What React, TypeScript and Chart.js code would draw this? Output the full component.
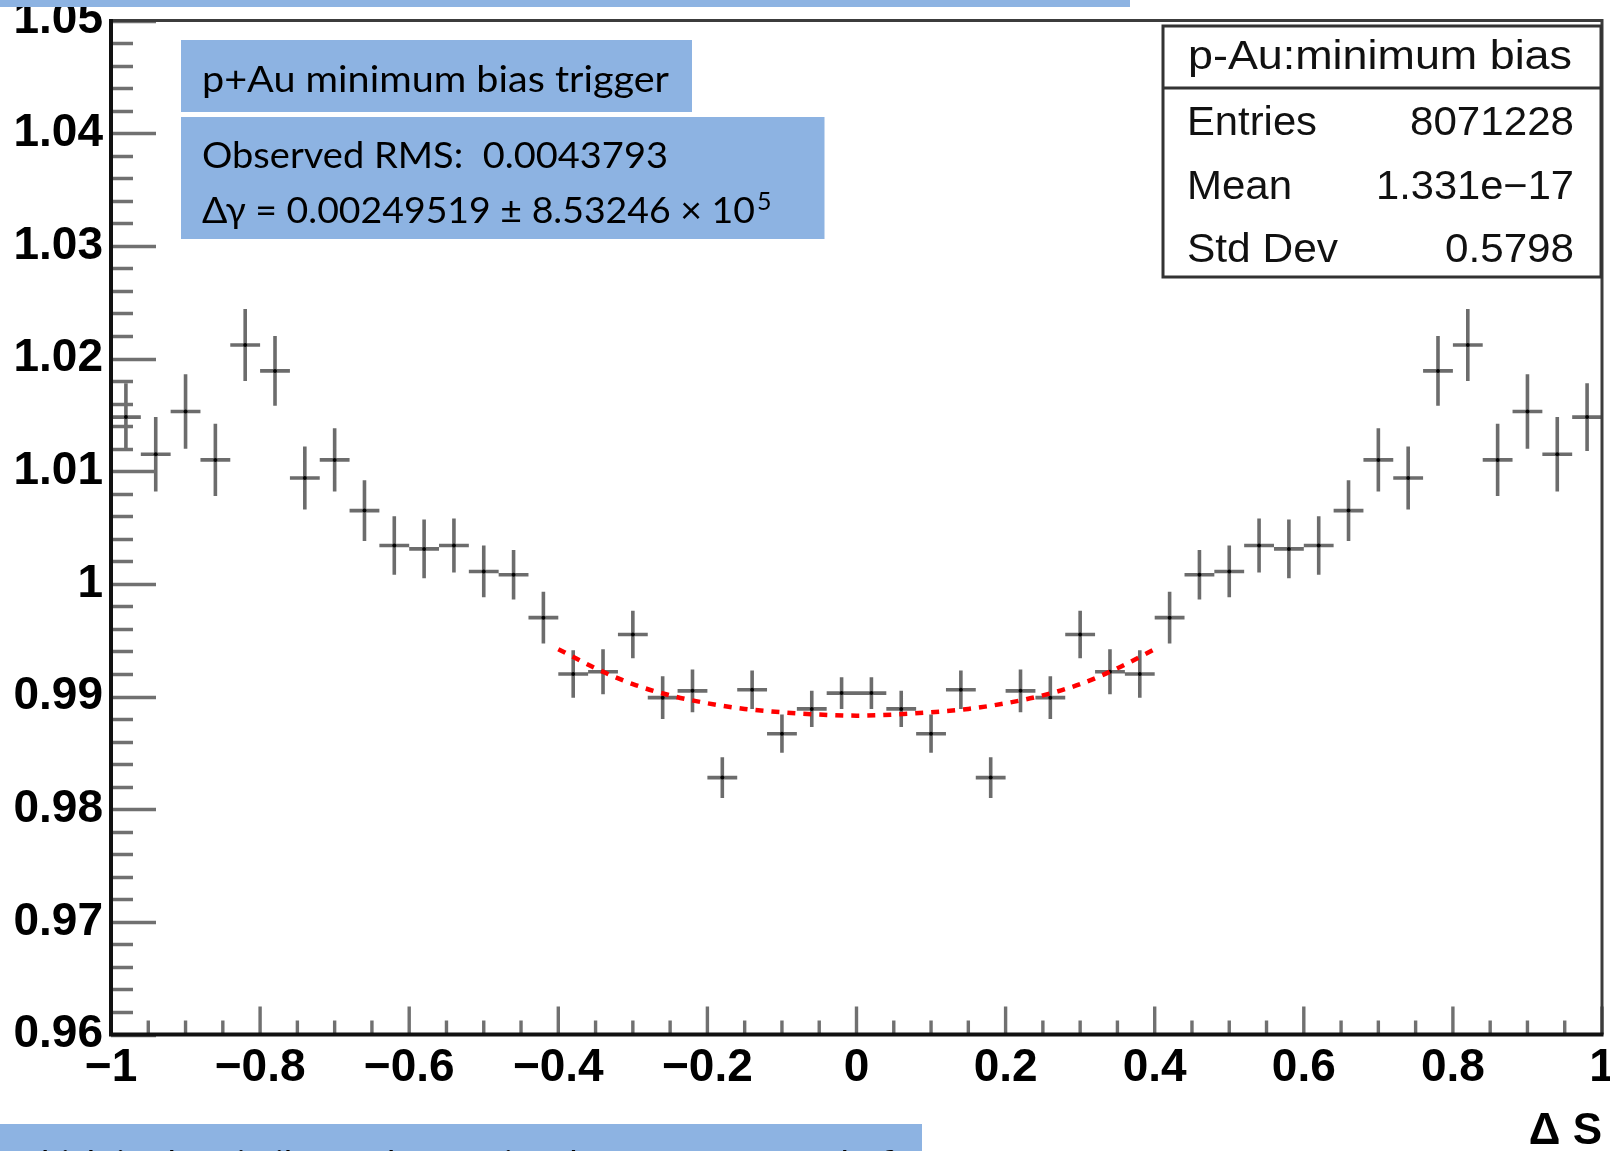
import React, { useEffect, useRef } from "react";
import { Chart, registerables } from "chart.js";

Chart.register(...registerables);

// ΔS bins (centres) of the normalised p+Au distribution
const binCenters = [
  -0.98, -0.94, -0.9, -0.86, -0.82, -0.78, -0.74, -0.7, -0.66, -0.62,
  -0.58, -0.54, -0.5, -0.46, -0.42, -0.38, -0.34, -0.3, -0.26, -0.22,
  -0.18, -0.14, -0.1, -0.06, -0.02, 0.02, 0.06, 0.1, 0.14, 0.18,
  0.22, 0.26, 0.3, 0.34, 0.38, 0.42, 0.46, 0.5, 0.54, 0.58,
  0.62, 0.66, 0.7, 0.74, 0.78, 0.82, 0.86, 0.9, 0.94, 0.98,
];
const binWidth = 0.04;

const ratioValues = [
  1.0148, 1.0115, 1.0153, 1.011, 1.0212, 1.0189, 1.0094, 1.011, 1.0065, 1.0034,
  1.0031, 1.0034, 1.0011, 1.0008, 0.997, 0.992, 0.9922, 0.9955, 0.9899, 0.9905,
  0.9828, 0.9906, 0.9867, 0.9889, 0.9903, 0.9903, 0.9889, 0.9867, 0.9906, 0.9828,
  0.9905, 0.9899, 0.9955, 0.9922, 0.992, 0.997, 1.0008, 1.0011, 1.0034, 1.0031,
  1.0034, 1.0065, 1.011, 1.0094, 1.0189, 1.0212, 1.011, 1.0153, 1.0115, 1.0148,
];

const ratioErrors = [
  0.003, 0.0033, 0.0033, 0.0032, 0.0032, 0.0031, 0.0028, 0.0028, 0.0027, 0.0026,
  0.0026, 0.0024, 0.0023, 0.0022, 0.0023, 0.0021, 0.002, 0.0021, 0.0019, 0.0019,
  0.0018, 0.0017, 0.0017, 0.0016, 0.0014, 0.0014, 0.0016, 0.0017, 0.0017, 0.0018,
  0.0019, 0.0019, 0.0021, 0.002, 0.0021, 0.0023, 0.0022, 0.0023, 0.0024, 0.0026,
  0.0026, 0.0027, 0.0028, 0.0028, 0.0031, 0.0032, 0.0032, 0.0033, 0.0033, 0.003,
];

// fitted curve over |ΔS| < 0.4
const fitX = [-0.4, -0.35, -0.3, -0.25, -0.2, -0.15, -0.1, -0.05, 0, 0.05, 0.1, 0.15, 0.2, 0.25, 0.3, 0.35, 0.4];
const fitY = [0.9942, 0.9925, 0.9911, 0.9901, 0.9894, 0.9889, 0.9886, 0.9884, 0.9883, 0.9884, 0.9886, 0.9889, 0.9894, 0.9901, 0.9911, 0.9925, 0.9942];

const xTickValues = [-1, -0.8, -0.6, -0.4, -0.2, 0, 0.2, 0.4, 0.6, 0.8, 1];
const xTickLabels = ["\u22121", "\u22120.8", "\u22120.6", "\u22120.4", "\u22120.2", "0", "0.2", "0.4", "0.6", "0.8", "1"];
const yTickValues = [0.96, 0.97, 0.98, 0.99, 1.0, 1.01, 1.02, 1.03, 1.04, 1.05];
const yTickLabels = ["0.96", "0.97", "0.98", "0.99", "1", "1.01", "1.02", "1.03", "1.04", "1.05"];

const xMinorStep = 0.05;
const yMinorStep = 0.002;

const statsTitle = "p-Au:minimum bias";
const statsRows = [
  ["Entries", "8071228"],
  ["Mean", "1.331e\u221217"],
  ["Std Dev", "0.5798"],
];
// rendered widths of the stats labels / values
const statsLabelWidths = [130, 105, 151];
const statsValueWidths = [164, 198, 129];

const W = 1610;
const H = 1151;
const BLUE = "#8DB3E2";
const SANS = "Liberation Sans, Arial, Helvetica, sans-serif";
const BOX_FONT = "Lato, Calibri, sans-serif";

function labelFor(values: number[], labels: string[], v: number) {
  const i = values.findIndex((t) => Math.abs(t - v) < 1e-6);
  return i >= 0 ? labels[i] : "";
}

// error bars: vertical = statistical error, horizontal = bin width
const errorBarPlugin = {
  id: "errorBars",
  beforeDatasetsDraw(chart: any) {
    const { ctx, scales } = chart;
    const x = scales.x;
    const y = scales.y;
    ctx.save();
    ctx.strokeStyle = "#6c6c6c";
    ctx.lineWidth = 3.6;
    ctx.lineCap = "butt";
    ctx.beginPath();
    binCenters.forEach((c, i) => {
      const v = ratioValues[i];
      const e = ratioErrors[i];
      const px = x.getPixelForValue(c);
      const py = y.getPixelForValue(v);
      ctx.moveTo(px, y.getPixelForValue(v + e));
      ctx.lineTo(px, y.getPixelForValue(v - e));
      ctx.moveTo(x.getPixelForValue(c - binWidth / 2), py);
      ctx.lineTo(x.getPixelForValue(c + binWidth / 2), py);
    });
    ctx.stroke();
    ctx.restore();
  },
};

// frame with inward-pointing major/minor ticks
const framePlugin = {
  id: "rootFrame",
  afterDraw(chart: any) {
    const { ctx, chartArea, scales } = chart;
    const { left, right, top, bottom } = chartArea;
    const x = scales.x;
    const y = scales.y;
    ctx.save();

    ctx.strokeStyle = "#707070";
    ctx.lineWidth = 3.4;
    ctx.beginPath();
    const yMajor = y.ticks.map((t: any) => t.value);
    for (let v = y.min; v <= y.max + 1e-9; v += yMinorStep) {
      const isMajor = yMajor.some((m: number) => Math.abs(m - v) < 1e-6);
      const py = Math.round(y.getPixelForValue(v)) + 0.5;
      ctx.moveTo(left, py);
      ctx.lineTo(left + (isMajor ? 45 : 22), py);
    }
    const xMajor = x.ticks.map((t: any) => t.value);
    for (let v = x.min; v <= x.max + 1e-9; v += xMinorStep) {
      const isMajor = xMajor.some((m: number) => Math.abs(m - v) < 1e-6);
      const px = x.getPixelForValue(v);
      ctx.moveTo(px, bottom);
      ctx.lineTo(px, bottom - (isMajor ? 28 : 14));
    }
    ctx.stroke();

    ctx.strokeStyle = "#3c3c3c";
    ctx.lineWidth = 3;
    ctx.beginPath();
    ctx.moveTo(left, top);
    ctx.lineTo(right, top);
    ctx.lineTo(right, bottom);
    ctx.stroke();

    ctx.strokeStyle = "#111";
    ctx.lineWidth = 4;
    ctx.beginPath();
    ctx.moveTo(left, top - 1.5);
    ctx.lineTo(left, bottom);
    ctx.lineTo(right + 1.5, bottom);
    ctx.stroke();
    ctx.restore();
  },
};

function ChartCanvas() {
  const ref = useRef<HTMLCanvasElement | null>(null);
  useEffect(() => {
    if (!ref.current) return;
    const tickFont = { family: SANS, size: 46, weight: "bold" as const, lineHeight: 1.2 };
    const chart = new Chart(ref.current, {
      type: "line",
      data: {
        datasets: [
          {
            label: "fit",
            data: fitX.map((v, i) => ({ x: v, y: fitY[i] })),
            borderColor: "#ff0000",
            borderWidth: 4.5,
            borderDash: [8, 8],
            pointRadius: 0,
            cubicInterpolationMode: "monotone",
            fill: false,
            order: 0,
          },
          {
            label: "ratio",
            data: binCenters.map((c, i) => ({ x: c, y: ratioValues[i] })),
            showLine: false,
            pointRadius: 2,
            pointBackgroundColor: "#000",
            pointBorderWidth: 0,
            order: 1,
          },
        ],
      },
      options: {
        animation: false,
        responsive: false,
        devicePixelRatio: 1,
        layout: { padding: { top: 20.5, right: 8, bottom: 0, left: 0 } },
        plugins: {
          legend: { display: false },
          title: { display: false },
          tooltip: { enabled: false },
        },
        scales: {
          x: {
            type: "linear",
            min: -1,
            max: 1,
            grid: { display: false, drawTicks: false },
            border: { display: false },
            ticks: {
              stepSize: 0.2,
              autoSkip: false,
              maxRotation: 0,
              padding: 6,
              color: "#000",
              font: tickFont,
              callback: (v: any) => labelFor(xTickValues, xTickLabels, Number(v)),
            },
            title: {
              display: true,
              text: "\u0394 S",
              align: "end",
              color: "#000",
              font: { family: SANS, size: 44, weight: "bold", lineHeight: 0.85 },
              padding: { top: 0, bottom: 0 },
            },
            afterFit: (s: any) => {
              s.height = 116.5;
              s.paddingLeft = 0;
              s.paddingRight = 0;
            },
          },
          y: {
            type: "linear",
            min: 0.96,
            max: 1.05,
            grid: { display: false, drawTicks: false },
            border: { display: false },
            ticks: {
              stepSize: 0.01,
              autoSkip: false,
              padding: 8,
              color: "#000",
              font: tickFont,
              callback: (v: any) => labelFor(yTickValues, yTickLabels, Number(v)),
            },
            afterFit: (s: any) => {
              s.width = 111;
              s.paddingTop = 0;
              s.paddingBottom = 0;
            },
          },
        },
      },
      plugins: [errorBarPlugin, framePlugin],
    } as any);
    return () => chart.destroy();
  }, []);
  return <canvas ref={ref} width={W} height={H} style={{ display: "block", width: W, height: H }} />;
}

function Overlay() {
  return (
    <svg width={W} height={H} style={{ position: "absolute", left: 0, top: 0 }}>
      <rect x={0} y={0} width={1130} height={7} fill={BLUE} />

      <rect x={181} y={40} width={511} height={72} fill={BLUE} />
      <text x={202} y={92} fontFamily={BOX_FONT} fontSize={36} fill="#000" textLength={467} lengthAdjust="spacingAndGlyphs">
        p+Au minimum bias trigger
      </text>

      <rect x={181} y={117} width={643.5} height={122} fill={BLUE} />
      <text x={202} y={168.3} fontFamily={BOX_FONT} fontSize={37} fill="#000" textLength={466} lengthAdjust="spacingAndGlyphs" xmlSpace="preserve">
        Observed RMS:  0.0043793
      </text>
      <text x={202} y={222.7} fontFamily={BOX_FONT} fontSize={37} fill="#000" textLength={553} lengthAdjust="spacingAndGlyphs">
        {"\u0394\u03b3 = 0.00249519 \u00b1 8.53246 \u00d7 10"}
      </text>
      <text x={757} y={210} fontFamily={BOX_FONT} fontSize={25} fill="#000">
        5
      </text>

      <rect x={1163} y={26} width={438} height={251} fill="#fff" stroke="#333" strokeWidth={3} />
      <line x1={1163} y1={88} x2={1601} y2={88} stroke="#333" strokeWidth={3} />
      <text x={1380} y={69} fontFamily={SANS} fontSize={40} fill="#111" textAnchor="middle" textLength={384} lengthAdjust="spacingAndGlyphs">
        {statsTitle}
      </text>
      {statsRows.map(([k, v], i) => (
        <g key={k}>
          <text x={1187} y={135 + i * 63.5} fontFamily={SANS} fontSize={40} fill="#111" textLength={statsLabelWidths[i]} lengthAdjust="spacingAndGlyphs">
            {k}
          </text>
          <text x={1574} y={135 + i * 63.5} fontFamily={SANS} fontSize={40} fill="#111" textAnchor="end" textLength={statsValueWidths[i]} lengthAdjust="spacingAndGlyphs">
            {v}
          </text>
        </g>
      ))}

      <rect x={0} y={1124} width={922} height={40} fill={BLUE} />
      <text x={-4} y={1176.5} fontFamily={BOX_FONT} fontSize={36} fill="#000" xmlSpace="preserve">
        , which is also similar to the VE signal from Monte Carlo fits
      </text>
    </svg>
  );
}

export default function App() {
  return (
    <div
      style={{
        position: "fixed",
        left: 0,
        top: 0,
        width: W,
        height: H,
        overflow: "hidden",
        background: "#fff",
      }}
    >
      <ChartCanvas />
      <Overlay />
    </div>
  );
}
